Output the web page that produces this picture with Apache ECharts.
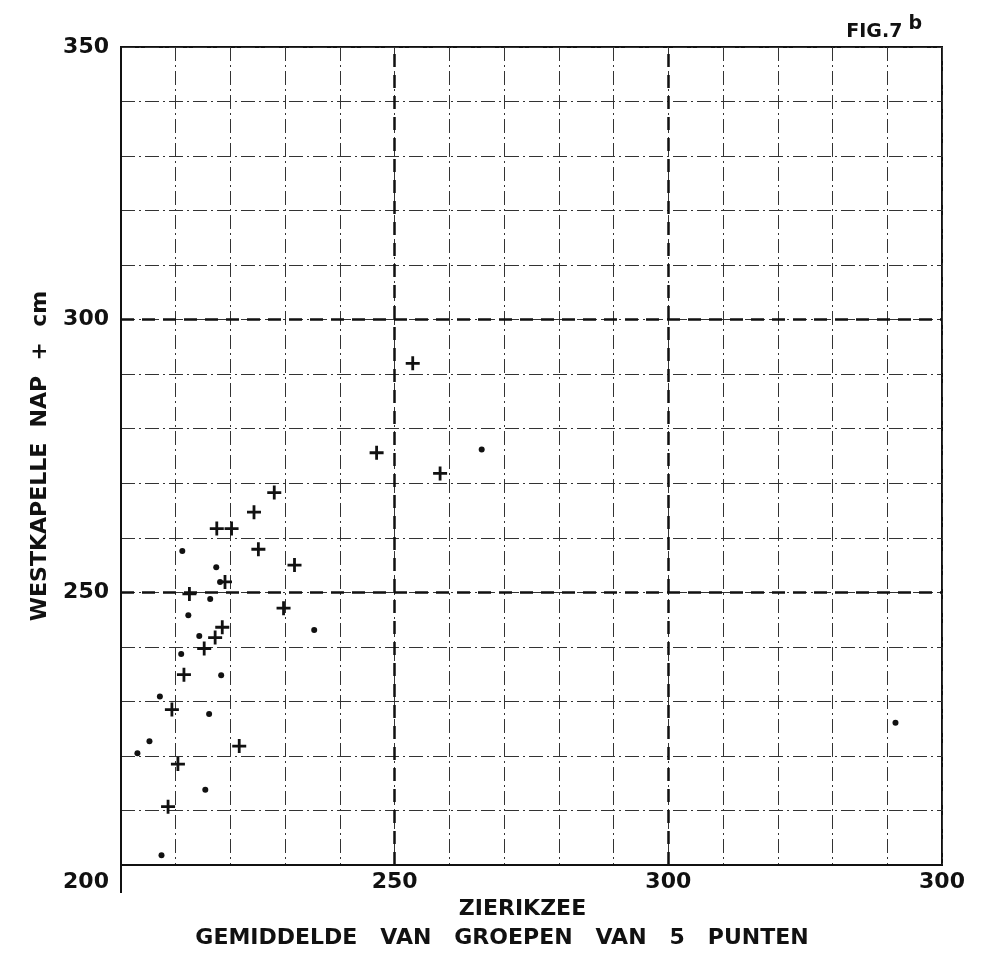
<!DOCTYPE html>
<html>
<head>
<meta charset="utf-8">
<script src="https://cdn.jsdelivr.net/npm/echarts@6/dist/echarts.min.js"></script>
<style>
  html, body { margin: 0; padding: 0; background: #fff; }
  #chart { width: 989px; height: 955px; }
</style>
</head>
<body>
<div id="chart"></div>
<script>
// values (x = Zierikzee, y = Westkapelle, cm + NAP)
const crossPoints = [
  [228.0, 268.3], [224.3, 264.7], [217.5, 261.7], [220.2, 261.7], [225.1, 257.9],
  [231.7, 255.0], [219.0, 251.9], [212.5, 249.7], [229.7, 247.1], [218.5, 243.6],
  [217.2, 241.7], [215.2, 239.7], [211.5, 234.9], [209.3, 228.5], [221.6, 221.8],
  [210.4, 218.5], [208.6, 210.7], [253.3, 292.0], [246.7, 275.6], [258.3, 271.8]
]
const dotPoints = [
  [211.2, 257.6], [217.4, 254.6], [218.1, 251.9], [216.3, 248.8], [212.3, 245.8],
  [235.3, 243.1], [214.3, 242.0], [211.0, 238.7], [218.3, 234.8], [207.1, 230.9],
  [216.1, 227.7], [205.2, 222.7], [203.0, 220.5], [215.4, 213.8], [207.4, 201.8],
  [265.9, 276.2], [341.5, 226.1]
]
const xTickValues = [200, 250, 300, 350]
const xTickLabels = ['200', '250', '300', '300']
const yTickValues = [250, 300, 350]
const yTickLabels = ['250', '300', '350']
const majorLines = [250, 300]

const ink = '#111'
const font = 'DejaVu Sans'
const plus = 'path://M4,0H6V4H10V6H6V10H4V6H0V4H4Z'

const chart = echarts.init(document.getElementById('chart'))

const minorGrid = {
  show: true,
  lineStyle: { color: '#333', width: 1, type: [14, 4, 2, 4] }
}
const lettering = { fontFamily: font, fontSize: 22, fontWeight: 'bold', color: ink }

chart.setOption({
  backgroundColor: '#fff',
  animation: false,
  title: [{
    text: 'FIG.7{b|b}',
    right: 62,
    top: 10,
    textStyle: {
      fontFamily: font, fontSize: 19, fontWeight: 'bold', color: ink,
      rich: { b: { fontFamily: font, fontSize: 19, fontWeight: 'bold', color: ink, padding: [0, 0, 16, 6] } }
    }
  }, {
    text: 'GEMIDDELDE   VAN   GROEPEN   VAN   5   PUNTEN',
    left: 497,
    top: 922,
    textAlign: 'center',
    textStyle: lettering
  }],
  grid: { left: 121, right: 47, top: 47, bottom: 90, show: true, borderColor: ink, borderWidth: 2 },
  xAxis: [{
    type: 'value',
    min: 200,
    max: 350,
    interval: 10,
    name: 'ZIERIKZEE',
    nameLocation: 'middle',
    nameGap: 33,
    nameTextStyle: Object.assign({}, lettering, { padding: [0, 0, 0, -18] }),
    axisLine: { show: true, onZero: false, lineStyle: { color: ink, width: 2 } },
    axisTick: { show: false },
    axisLabel: Object.assign({}, lettering, {
      margin: 6,
      formatter: v => {
        const i = xTickValues.indexOf(v)
        if (i < 0) return ''
        return v === 200 ? '{l|' + xTickLabels[i] + '}' : xTickLabels[i]
      },
      rich: { l: Object.assign({}, lettering, { padding: [0, 70, 0, 0] }) }
    }),
    splitLine: minorGrid
  }, {
    // only carries the long tick under the origin
    type: 'value',
    min: 200,
    max: 350,
    position: 'bottom',
    axisLine: { show: false },
    axisLabel: { show: false },
    splitLine: { show: false },
    axisTick: { show: true, customValues: [200], length: 28, lineStyle: { color: ink, width: 2 } }
  }],
  yAxis: {
    type: 'value',
    min: 200,
    max: 350,
    interval: 10,
    name: 'WESTKAPELLE  NAP  +  cm',
    nameLocation: 'middle',
    nameRotate: 90,
    nameGap: 70,
    nameTextStyle: lettering,
    axisLine: { show: true, onZero: false, lineStyle: { color: ink, width: 2 } },
    axisTick: { show: false },
    axisLabel: Object.assign({}, lettering, {
      margin: 12,
      formatter: v => {
        const i = yTickValues.indexOf(v)
        return i < 0 ? '' : yTickLabels[i]
      }
    }),
    splitLine: minorGrid
  },
  series: [{
    name: 'kruisjes',
    type: 'scatter',
    symbol: plus,
    symbolSize: 14,
    itemStyle: { color: ink, opacity: 1 },
    data: crossPoints,
    z: 5,
    markLine: {
      silent: true,
      symbol: ['none', 'none'],
      label: { show: false },
      lineStyle: { color: ink, width: 2.5, type: [13, 8] },
      data: majorLines.map(v => ({ xAxis: v })).concat(majorLines.map(v => ({ yAxis: v })))
    }
  }, {
    name: 'punten',
    type: 'scatter',
    symbol: 'circle',
    symbolSize: 6,
    itemStyle: { color: ink, opacity: 1 },
    data: dotPoints,
    z: 5
  }]
})
</script>
</body>
</html>
